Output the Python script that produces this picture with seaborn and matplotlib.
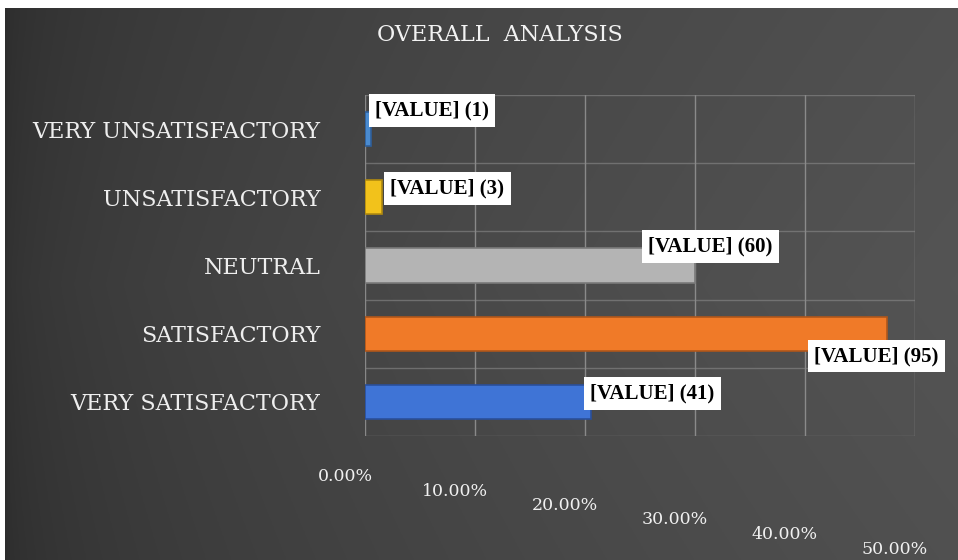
import numpy as np
import pandas as pd
import matplotlib
matplotlib.use("Agg")
import matplotlib.pyplot as plt
import matplotlib.transforms as mtransforms
import seaborn as sns

# ---- data ----
categories = ["VERY UNSATISFACTORY", "UNSATISFACTORY", "NEUTRAL", "SATISFACTORY", "VERY SATISFACTORY"]
counts = [1, 3, 60, 95, 41]
percents = [0.5, 1.5, 30.0, 47.5, 20.5]
tick_values = [0, 10, 20, 30, 40, 50]
tick_labels = ["0.00%", "10.00%", "20.00%", "30.00%", "40.00%", "50.00%"]
title = "OVERALL  ANALYSIS"

colors = ["#4a8bd0", "#f2c21b", "#b4b4b4", "#f07a28", "#3f74d6"]
edge_colors = ["#2f5f9a", "#b08a10", "#7a7a7a", "#b0561a", "#2a4f9a"]
label_dy = [-0.27, -0.13, -0.28, 0.33, -0.12]
label_ha = ["left", "left", "center", "center", "left"]
label_dx = [0.4, 0.8, 1.4, -1.0, 0.0]

df = pd.DataFrame({"category": categories, "percent": percents, "count": counts})

sns.set_theme(style="white")
plt.rcParams["font.family"] = ["DejaVu Serif"]

fig = plt.figure(figsize=(9.58, 5.6), dpi=100)
fig.patch.set_facecolor("white")

# background gradient panel
bg = fig.add_axes([5 / 958, 0, 953 / 958, 552 / 560])
bg.set_axis_off()
xx = np.linspace(0, 1, 400)
yy = np.linspace(0, 1, 240)
X, Y = np.meshgrid(xx, yy)
val = 0.19 + 0.14 * np.sqrt(X) - 0.03 * np.abs(Y - 0.5)
img = np.dstack([val, val, val])
bg.imshow(img, aspect="auto", extent=[0, 1, 0, 1], origin="lower")
bg.set_xlim(0, 1)
bg.set_ylim(0, 1)

ax = fig.add_axes([365 / 958, 1 - 436 / 560, 550 / 958, 341 / 560])
ax.set_facecolor("none")
sns.barplot(data=df, y="category", x="percent", hue="category", palette=colors,
            legend=False, orient="h", width=0.5, ax=ax, saturation=1, linewidth=1.2)
for patch, ec in zip(ax.patches, edge_colors):
    patch.set_edgecolor(ec)
ax.set_xlim(0, 50)
ax.set_xlabel("")
ax.set_ylabel("")

# grid lines
for v in tick_values:
    ax.axvline(v, color="#9a9a9a", lw=1.0, zorder=0, alpha=0.8)
for i in range(len(categories) + 1):
    ax.axhline(i - 0.5, color="#8a8a8a", lw=1.0, zorder=0, alpha=0.6)
for s in ax.spines.values():
    s.set_visible(False)

ax.set_xticks(tick_values)
ax.set_xticklabels(tick_labels, color="#f0f0f0", fontsize=12.5)
ax.tick_params(axis="x", length=0, pad=0)
for i, lab in enumerate(ax.get_xticklabels()):
    off = mtransforms.ScaledTranslation(-20 / 100, -(32 + 14.5 * i) / 100, fig.dpi_scale_trans)
    lab.set_transform(lab.get_transform() + off)

ax.set_yticks(range(len(categories)))
ax.set_yticklabels(categories, color="#eeeeee", fontsize=16)
ax.tick_params(axis="y", length=0, pad=32)

# value labels
for i, (p, c) in enumerate(zip(percents, counts)):
    ax.text(p + label_dx[i], i + label_dy[i], f"[VALUE] ({c})", ha=label_ha[i], va="center",
            fontsize=15, fontweight="bold", family="Liberation Serif", color="black",
            bbox=dict(boxstyle="square,pad=0.3", facecolor="white", edgecolor="none"),
            zorder=5)

fig.text(500 / 958, 1 - 35 / 560, title, ha="center", va="center", color="#f2f2f2",
         fontsize=16, family="DejaVu Serif")

fig.savefig("out.png", dpi=100)
